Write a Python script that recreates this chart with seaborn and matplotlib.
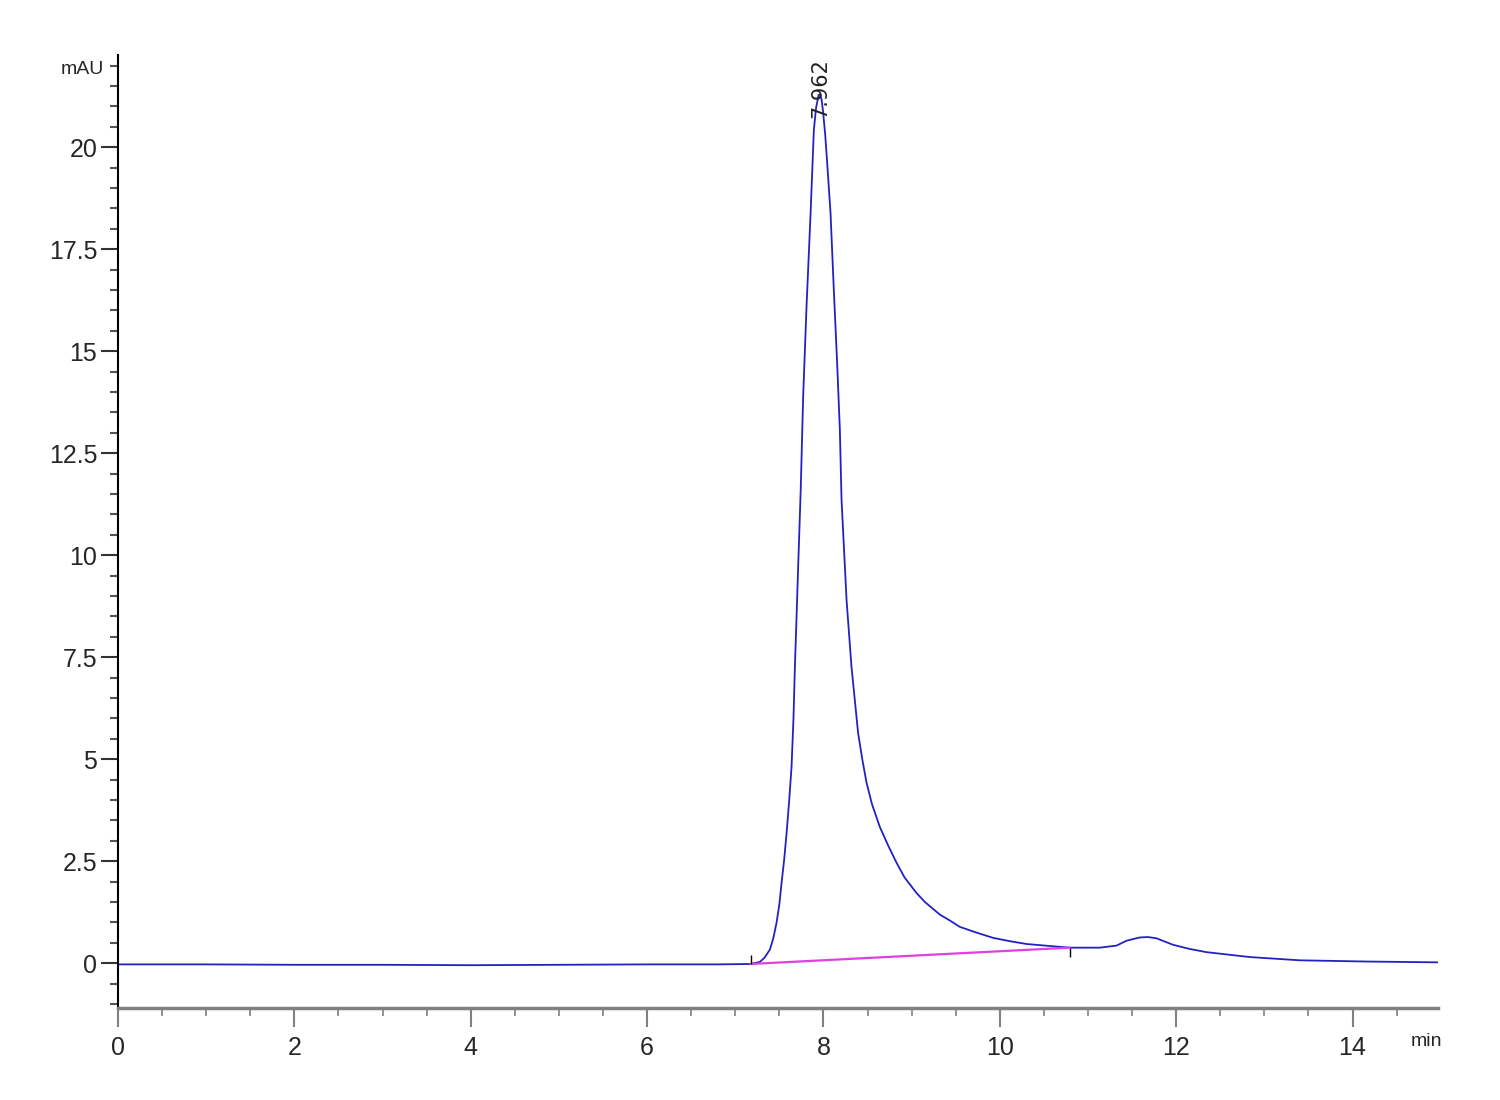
import numpy as np
import pandas as pd
import matplotlib
matplotlib.use("Agg")
import matplotlib.pyplot as plt
from matplotlib.ticker import MultipleLocator, FuncFormatter
import seaborn as sns

# chromatogram trace (min, mAU)
time_min = [0.0, 1.0, 2.0, 3.0, 4.0, 5.0, 6.0, 6.8, 7.173, 7.279, 7.33, 7.392, 7.43,
            7.468, 7.50, 7.525, 7.555, 7.582, 7.61, 7.638, 7.66, 7.676, 7.695, 7.713,
            7.742, 7.770, 7.808, 7.854, 7.891, 7.915, 7.945, 7.962, 7.98, 7.997, 8.02,
            8.042, 8.080, 8.121, 8.155, 8.186, 8.205, 8.262, 8.318, 8.393, 8.44, 8.489,
            8.55, 8.639, 8.73, 8.829, 8.92, 9.055, 9.15, 9.320, 9.43, 9.546, 9.72, 9.924,
            10.11, 10.302, 10.57, 10.794, 11.134, 11.323, 11.437, 11.587, 11.680, 11.776,
            11.965, 12.15, 12.343, 12.834, 13.401, 14.157, 14.97]
signal_mau = [-0.03, -0.03, -0.04, -0.04, -0.05, -0.04, -0.03, -0.03, -0.02, 0.03, 0.13,
              0.33, 0.60, 0.99, 1.45, 1.97, 2.55, 3.19, 3.95, 4.81, 6.00, 7.26, 8.50, 9.71,
              11.60, 13.90, 16.10, 18.38, 20.42, 20.95, 21.28, 21.30, 21.15, 20.84, 20.30,
              19.62, 18.39, 16.33, 14.72, 13.07, 11.36, 8.90, 7.26, 5.64, 5.00, 4.42,
              3.90, 3.34, 2.90, 2.46, 2.10, 1.72, 1.50, 1.19, 1.05, 0.89, 0.76, 0.62,
              0.54, 0.47, 0.42, 0.38, 0.38, 0.43, 0.55, 0.63, 0.64, 0.61,
              0.45, 0.35, 0.27, 0.15, 0.07, 0.04, 0.02]

# integration baseline (start, end)
baseline_t = [7.173, 10.794]
baseline_y = [-0.02, 0.38]

peak_rt = 7.962
peak_label = "7.962"

df = pd.DataFrame({"time": time_min, "mAU": signal_mau})

sns.set_style("ticks")
plt.rcParams["font.family"] = ["Liberation Sans Narrow", "Liberation Sans", "DejaVu Sans"]

fig = plt.figure(figsize=(15, 11), dpi=100)
ax = fig.add_axes([0.0787, 0.0836, 0.88, 0.8664])

sns.lineplot(data=df, x="time", y="mAU", ax=ax, color="#2222c4", linewidth=1.3)

# baseline and its start/end markers
ax.plot(baseline_t, baseline_y, color="#e040e0", linewidth=1.6)
ax.vlines(baseline_t[0], baseline_y[0], baseline_y[0] + 0.22, color="black", linewidth=1)
ax.vlines(baseline_t[1], baseline_y[1] - 0.24, baseline_y[1], color="black", linewidth=1)

# peak label
ax.text(peak_rt, 20.72, peak_label, rotation=90, ha="center", va="bottom",
        fontsize=15, family="DejaVu Sans", color="#222222")

ax.set_xlim(0, 14.97)
ax.set_ylim(-1.1, 22.26)

ax.xaxis.set_major_locator(MultipleLocator(2))
ax.xaxis.set_minor_locator(MultipleLocator(0.5))
ax.yaxis.set_major_locator(MultipleLocator(2.5))
ax.yaxis.set_minor_locator(MultipleLocator(0.5))
ax.yaxis.set_major_formatter(FuncFormatter(lambda v, p: f"{v:g}"))

ax.tick_params(axis="x", which="major", length=14, width=1.5, color="#808080",
               labelsize=18, pad=6)
ax.tick_params(axis="x", which="minor", length=6, width=1.2, color="#808080")
ax.tick_params(axis="y", which="major", length=12, width=1.5, color="#333333",
               labelsize=18, pad=3)
ax.tick_params(axis="y", which="minor", length=6, width=1.5, color="#555555")

sns.despine(ax=ax)
ax.spines["left"].set_color("black")
ax.spines["left"].set_linewidth(1.5)
ax.spines["bottom"].set_color("#808080")
ax.spines["bottom"].set_linewidth(2.5)

ax.set_xlabel("")
ax.set_ylabel("")
fig.text(82 / 1500, 1 - 69 / 1100, "mAU", ha="center", va="center", fontsize=14)
fig.text(1426 / 1500, 1 - 1042 / 1100, "min", ha="center", va="center", fontsize=14)

fig.savefig("out.png", dpi=100, facecolor="white")
